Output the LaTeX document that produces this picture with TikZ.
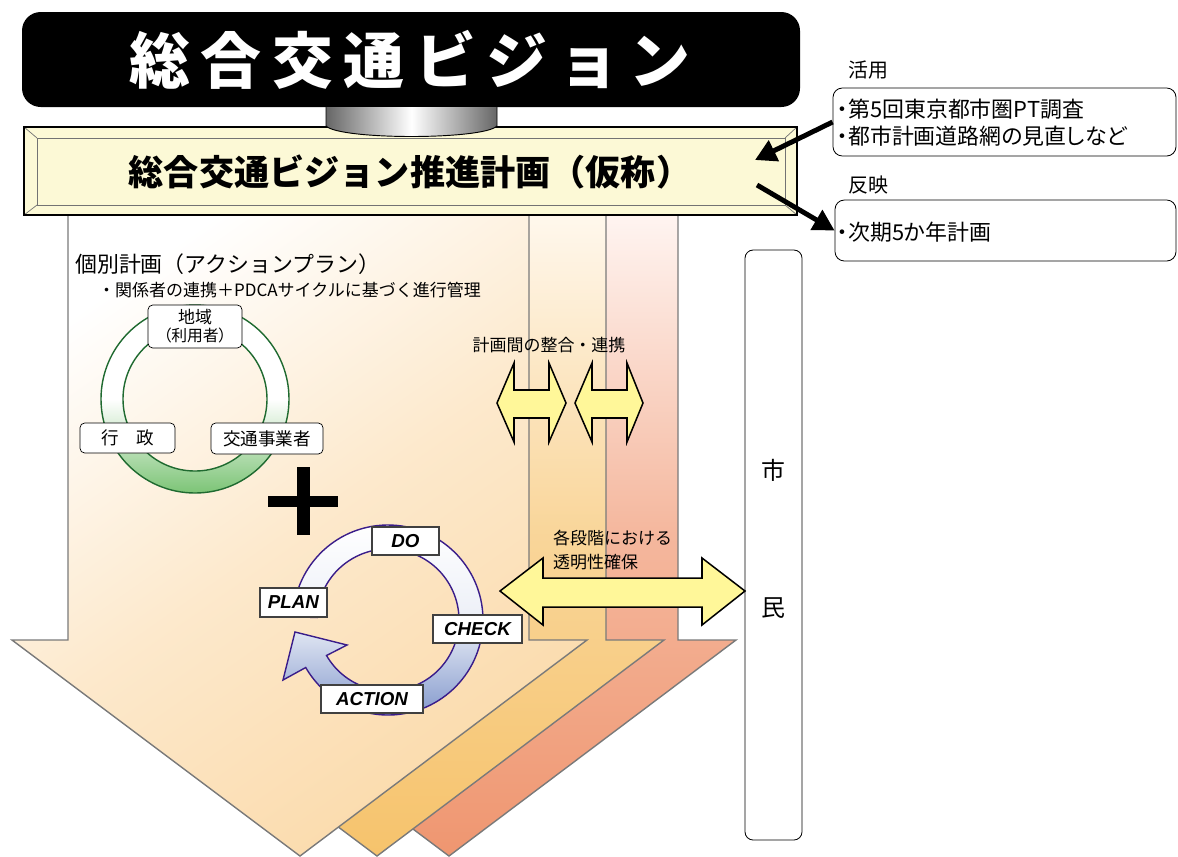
\documentclass[tikz,border=0pt]{standalone}
\usepackage{fontspec}
\setmainfont{Noto Sans CJK JP}
\newfontfamily\jpp{Noto Sans CJK JP}[RawFeature=+palt]
\newfontfamily\pdcaf{Liberation Sans}
\usetikzlibrary{arrows.meta,calc}
\newcommand\fsz[1]{\fontsize{#1pt}{#1pt}\selectfont}
\definecolor{frameY}{HTML}{FCF9D6}
\definecolor{arrY}{HTML}{FFF799}
\definecolor{gEdge}{HTML}{1F6A30}
\definecolor{gFill}{HTML}{7CC476}
\definecolor{pEdge}{HTML}{3A1D8A}
\definecolor{pFill}{HTML}{8298CC}
\definecolor{arrEdge}{HTML}{7A7A7A}
\definecolor{frontD}{HTML}{FBDAAA}
\definecolor{midL}{HTML}{FFF8EE}
\definecolor{midD}{HTML}{F6C36C}
\definecolor{backL}{HTML}{FFF5F2}
\definecolor{backD}{HTML}{EF9670}
\begin{document}
\begin{tikzpicture}[x=0.03cm,y=-0.03cm,
  bigarrow/.style={draw=arrEdge,line width=1.2pt,line join=miter},
  yarrow/.style={draw=black,fill=arrY,line width=1.3pt,line join=miter},
  gbox/.style={draw=black,fill=white,rounded corners=4pt,line width=0.6pt,inner sep=0pt},
  pbox/.style={draw=black!75,fill=white,line width=1pt,inner sep=0pt,font=\pdcaf\bfseries\itshape\fsz{16}},
  rbox/.style={draw=black,fill=white,rounded corners=8pt,line width=0.7pt,inner sep=0pt},
  link/.style={line width=4.2pt,-{Triangle[length=18pt,width=19pt]}},
  lbl/.style={inner sep=0pt,anchor=west},
]
\useasboundingbox (0,0) rectangle (1178,856);
% big down arrows
\draw[bigarrow, top color=backL, bottom color=backD, middle color=backD!65!backL]
  (217,210) -- (217,640) -- (161,640) -- (449,856) -- (736,640) -- (678,640) -- (678,210) -- cycle;
\draw[bigarrow, top color=midL, bottom color=midD, middle color=midD!65!midL]
  (145,210) -- (145,640) -- (89,640) -- (377,856) -- (664,640) -- (606,640) -- (606,210) -- cycle;
\draw[bigarrow, top color=white, bottom color=frontD, middle color=frontD!60!white, shading angle=35]
  (68,210) -- (68,640) -- (12,640) -- (300,856) -- (587,640) -- (529,640) -- (529,210) -- cycle;
% frame
\fill[frameY] (24,127) rectangle (797,215);
\draw[line width=0.6pt, black!55] (37,138) rectangle (785,205);
\draw[line width=0.6pt, black!55] (24,127)--(37,138) (797,127)--(785,138) (24,215)--(37,205) (797,215)--(785,205);
\draw[line width=1.6pt] (24,127) rectangle (797,215);
\node[inner sep=0pt, font=\bfseries\fsz{30}] (sub) at (410,172) {総合交通ビジョン推進計画（仮称）};
% title
\fill[black, rounded corners=16pt] (22,12) rectangle (800,107);
\node[inner sep=0pt, text=white, font=\bfseries\fsz{52}] (title) at (410,60)
  {総\hspace{9pt}合\hspace{9pt}交\hspace{9pt}通\hspace{9pt}ビ\hspace{9pt}ジ\hspace{9pt}ョ\hspace{9pt}ン};
% cylinder
\draw[line width=0.8pt, left color=black!60, right color=black!60, middle color=white]
  (326,107) -- (326,126) .. controls (340,140) and (483,140) .. (497,126) -- (497,107);
% right side
\node[lbl, font=\fsz{17}] (lk) at (848,70) {活用};
\node[rbox, minimum width=10.29cm, minimum height=2.04cm] (box1) at (1004.5,122) {};
\node[lbl, font=\jpp\fsz{18.7}] (b1a) at (837,109) {・第5回東京都市圏PT調査};
\node[lbl, font=\jpp\fsz{18.7}] (b1b) at (837,136) {・都市計画道路網の見直しなど};
\node[lbl, font=\fsz{17}] (lh) at (848,185) {反映};
\node[rbox, minimum width=10.23cm, minimum height=1.83cm] (box2) at (1005.5,230.5) {};
\node[lbl, font=\jpp\fsz{18.7}] (b2a) at (837,232) {・次期5か年計画};
\coordinate (a1) at (755,160);
\coordinate (a2) at (757,185);
\draw[link] (box1.west) -- (a1);
\draw[link] (a2) -- (box2.west);
% citizens
\node[rbox, rounded corners=7pt, minimum width=1.71cm, minimum height=17.7cm] (shimin) at (773.5,545) {};
\node[inner sep=0pt, font=\fsz{20.4}] (shi) at (773.5,470) {市};
\node[inner sep=0pt, font=\fsz{20.4}] (min) at (773.5,608) {民};
% headings
\node[lbl, font=\fsz{18.7}] (kobetsu) at (75,264) {個別計画（アクションプラン）};
\node[lbl, font=\fsz{14.5}] (kankei) at (98,290) {・関係者の連携＋PDCAサイクルに基づく進行管理};
% green ring
\draw[gEdge, line width=1.2pt, even odd rule, top color=white, bottom color=gFill, middle color=white]
  (195,399) circle (94) (195,399) circle (72);
\node[gbox, minimum width=2.82cm, minimum height=1.29cm] (chiiki) at (195,326.5) {};
\node[inner sep=0pt, font=\fsz{14.5}] (chiikit) at (195,317) {地域};
\node[inner sep=0pt, font=\jpp\fsz{13.5}] (riyou) at (195,335) {（利用者）};
\node[gbox, minimum width=2.85cm, minimum height=0.9cm, font=\fsz{15}] (gyosei) at (127.5,438) {行　政};
\node[gbox, minimum width=3.36cm, minimum height=0.93cm, font=\fsz{15}] (jigyo) at (267,438.5) {交通事業者};
% plus
\fill (297,467) rectangle (310,535);
\fill (268,496) rectangle (338,507);
% PDCA ring
\draw[pEdge, line width=1.2pt, line join=miter, top color=white, bottom color=pFill, middle color=white!85!pFill]
  ($(388,620)+(182:95)$) arc[start angle=182, end angle=510, radius=95]
  -- (283,680) -- (295,632) -- (347,645)
  -- ($(388,620)+(510:71)$) arc[start angle=510, end angle=182, radius=71] -- cycle;
\node[pbox, minimum width=2.01cm, minimum height=0.84cm] (do) at (405.5,541) {DO};
\node[pbox, minimum width=2.01cm, minimum height=0.87cm] (plan) at (293.5,602.5) {PLAN};
\node[pbox, minimum width=2.67cm, minimum height=0.84cm] (check) at (477.5,629) {CHECK};
\node[pbox, minimum width=3.06cm, minimum height=0.84cm] (action) at (372,699) {ACTION};
% yellow double arrows
\draw[yarrow] (497,403) -- (514,363) -- (514,390) -- (549,390) -- (549,363) -- (566,403) -- (549,442) -- (549,418) -- (514,418) -- (514,442) -- cycle;
\draw[yarrow] (575,403) -- (592,363) -- (592,390) -- (627,390) -- (627,363) -- (643,403) -- (627,442) -- (627,418) -- (592,418) -- (592,442) -- cycle;
\draw[yarrow] (500,591) -- (543,558) -- (543,578) -- (702,578) -- (702,558) -- (745,591) -- (702,625) -- (702,607) -- (543,607) -- (543,625) -- cycle;
\node[inner sep=0pt, font=\fsz{14.5}] (seigo) at (549,345) {計画間の整合・連携};
\node[lbl, font=\fsz{14.5}] (kaku) at (553,538) {各段階における};
\node[lbl, font=\fsz{14.5}] (tomei) at (553,562) {透明性確保};
\end{tikzpicture}
\end{document}
